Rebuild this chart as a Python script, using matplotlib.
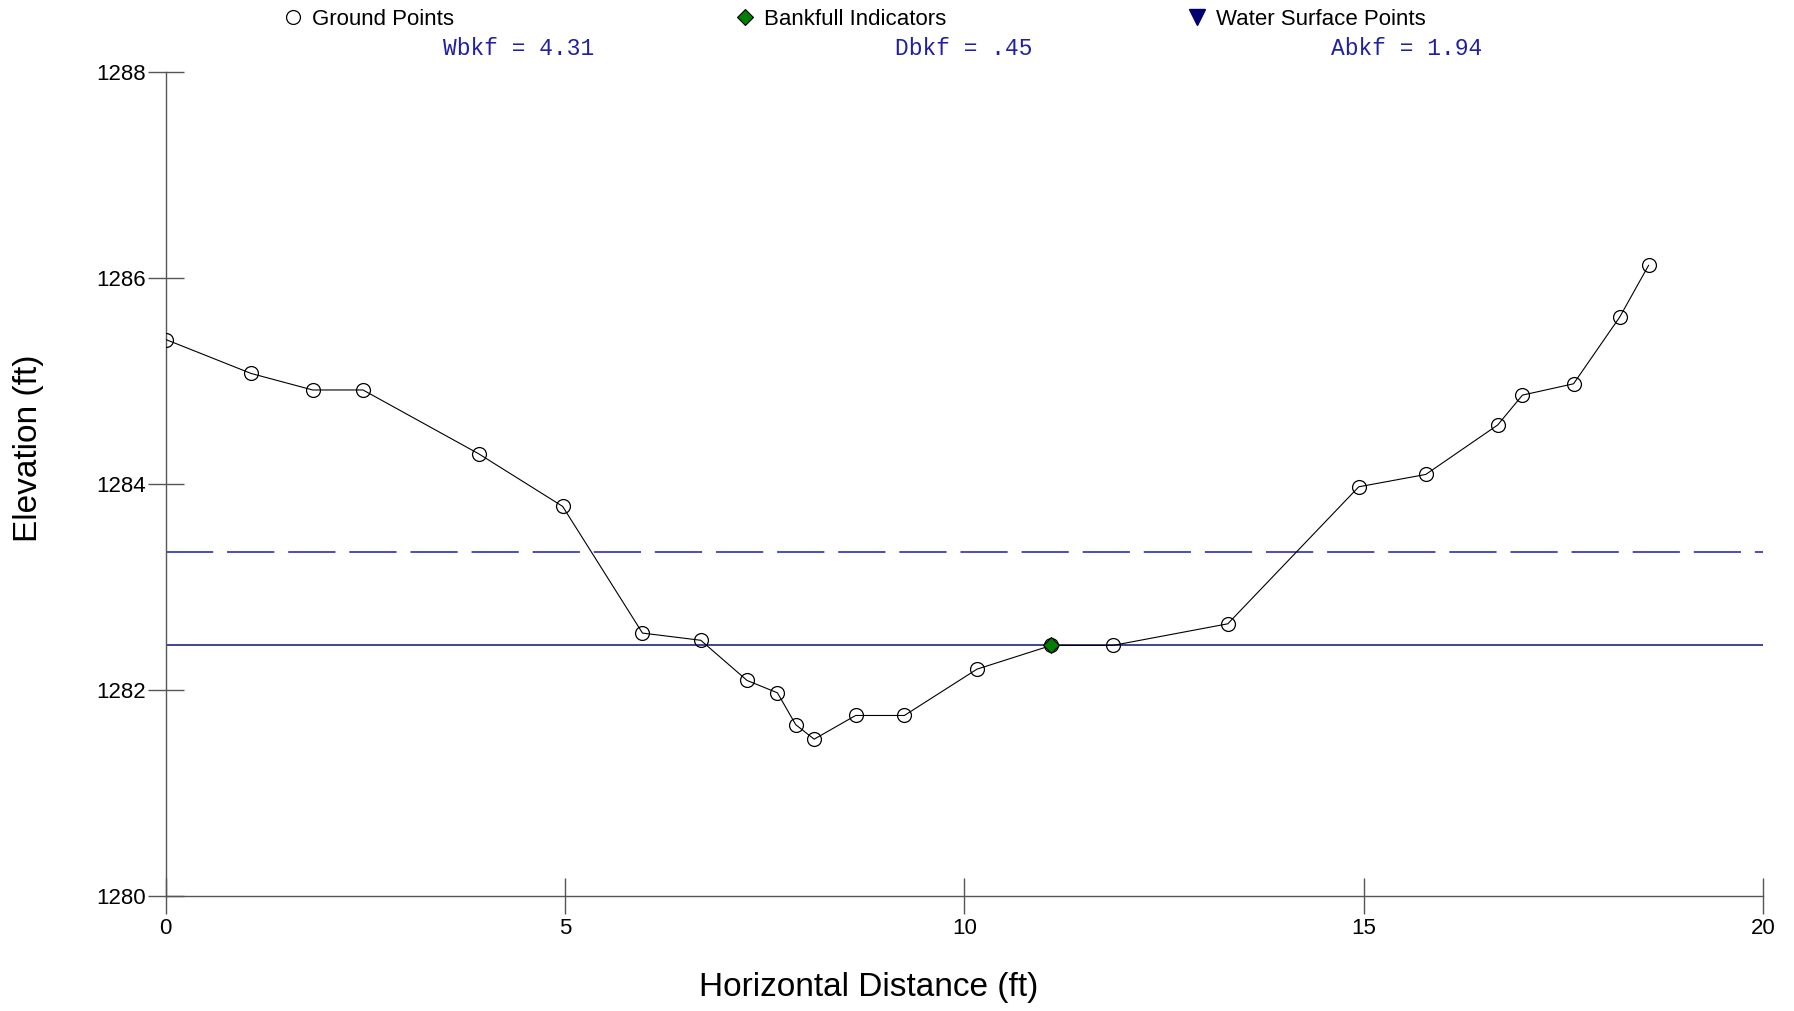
import matplotlib
matplotlib.use("Agg")
import matplotlib.pyplot as plt
from matplotlib.lines import Line2D

# surveyed cross-section (station ft, elevation ft)
station = [0.0, 1.07, 1.84, 2.47, 3.92, 4.97, 5.97, 6.70, 7.28, 7.66, 7.89, 8.12,
           8.64, 9.25, 10.16, 11.09, 11.86, 13.30, 14.94, 15.78, 16.68, 16.99,
           17.63, 18.21, 18.57]
elevation = [1285.40, 1285.07, 1284.91, 1284.91, 1284.29, 1283.78, 1282.55, 1282.48,
             1282.09, 1281.97, 1281.66, 1281.52, 1281.75, 1281.75, 1282.20, 1282.43,
             1282.43, 1282.64, 1283.97, 1284.09, 1284.57, 1284.86, 1284.97, 1285.62,
             1286.12]

bankfull_x = [11.09]
bankfull_y = [1282.43]
water_x = []
water_y = []

bankfull_elev = 1282.43
floodprone_elev = 1283.34

stats = ["Wbkf = 4.31", "Dbkf = .45", "Abkf = 1.94"]
xticks = [0, 5, 10, 15, 20]
yticks = [1280, 1282, 1284, 1286, 1288]

plt.rcParams['font.family'] = ['Liberation Sans', 'DejaVu Sans']
plt.rcParams['lines.scale_dashes'] = False

fig = plt.figure(figsize=(17.94, 10.11), dpi=100)
ax = fig.add_axes([0.0924, 0.1140, 0.8902, 0.8151])

ax.axhline(floodprone_elev, color='#1c1ca8', lw=1.1, dashes=(34, 10), zorder=2)
ax.axhline(bankfull_elev, color='#10107a', lw=1.1, zorder=2)

ax.plot(station, elevation, color='black', lw=0.8, marker='o', ms=10,
        mfc='none', mec='black', mew=0.9, zorder=3)
ax.plot(bankfull_x, bankfull_y, ls='none', marker='D', ms=8, mfc='#008000',
        mec='black', mew=0.8, zorder=4)
ax.plot(water_x, water_y, ls='none', marker='v', ms=10, color='#000070', zorder=4)

ax.set_xlim(0, 20)
ax.set_ylim(1280, 1288)
ax.set_xticks(xticks)
ax.set_yticks(yticks)
ax.tick_params(direction='inout', length=26, width=1, color='#555555',
               labelsize=16)
ax.tick_params(axis='y', pad=1)
ax.tick_params(axis='x', pad=3)

for s in ['top', 'right']:
    ax.spines[s].set_visible(False)
for s in ['left', 'bottom']:
    ax.spines[s].set_color('#555555')
    ax.spines[s].set_linewidth(1)

ax.set_xlabel("Horizontal Distance (ft)", fontsize=24, va='center')
ax.xaxis.set_label_coords(0.44, -0.111)
ax.set_ylabel("Elevation (ft)", fontsize=24, va='center')
ax.yaxis.set_label_coords(-0.0862, 0.543)

# legend entries across the top
handles = [
    Line2D([], [], ls='none', marker='o', ms=10, mfc='none', mec='black', mew=0.9),
    Line2D([], [], ls='none', marker='D', ms=8, mfc='#008000', mec='black', mew=0.8),
    Line2D([], [], ls='none', marker='v', ms=11, color='#000070'),
]
names = ["Ground Points", "Bankfull Indicators", "Water Surface Points"]
lefts = [0.157, 0.409, 0.661]
for h, n, lx in zip(handles, names, lefts):
    fig.legend([h], [n], loc='center left', bbox_to_anchor=(lx, 0.981),
               frameon=False, fontsize=16, handlelength=1, handletextpad=0.35,
               borderpad=0, borderaxespad=0)

for txt, cx in zip(stats, [0.289, 0.537, 0.784]):
    fig.text(cx, 0.9525, txt, ha='center', va='center', color='#2020a0',
             fontsize=16.5, family=['Liberation Mono', 'DejaVu Sans Mono'])

fig.savefig("out.png", dpi=100)
